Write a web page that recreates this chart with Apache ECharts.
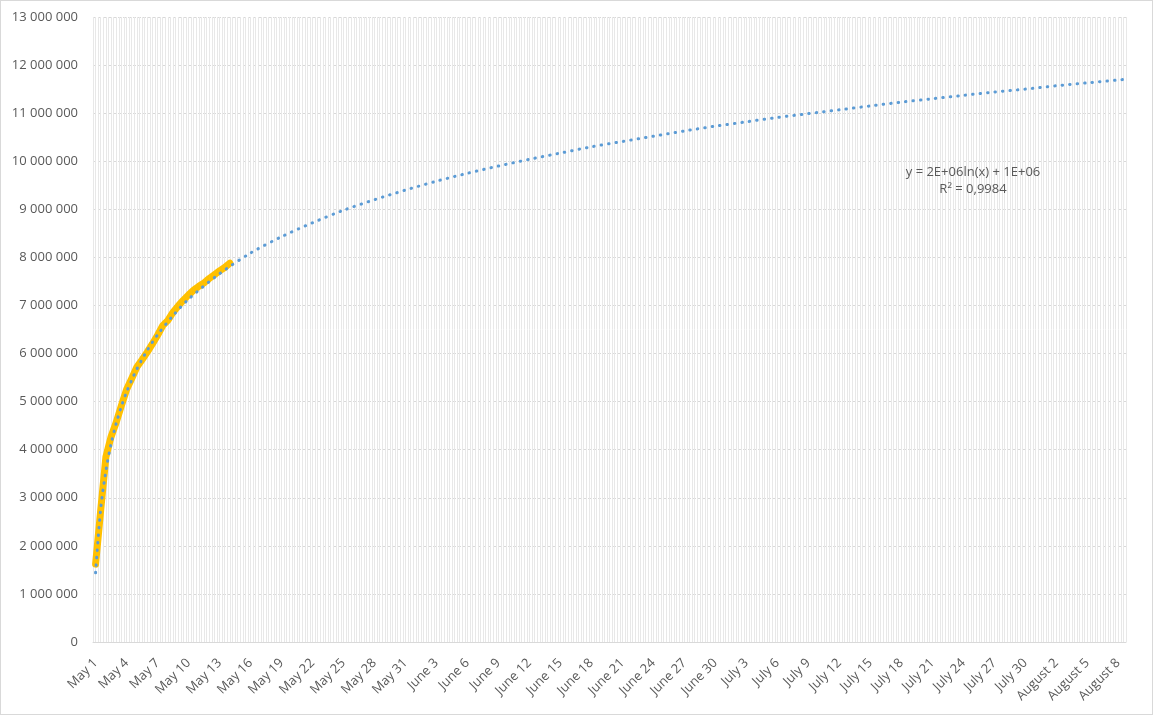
<!DOCTYPE html>
<html>
<head>
<meta charset="utf-8">
<script src="https://cdn.jsdelivr.net/npm/echarts@6/dist/echarts.min.js"></script>
<style>
  html, body { margin: 0; padding: 0; background: #ffffff; }
  #frame { position: absolute; left: 0; top: 0; width: 1153px; height: 715px; box-sizing: border-box; border: 1px solid #d9d9d9; }
  #chart { position: absolute; left: 0; top: 0; width: 1154px; height: 715px; }
</style>
</head>
<body>
<div id="frame"></div>
<div id="chart"></div>
<script>
// Tick labels shown every 3 days (each day = 2 categories)
const tickLabels = ['May 1','May 4','May 7','May 10','May 13','May 16','May 19','May 22','May 25','May 28','May 31',
  'June 3','June 6','June 9','June 12','June 15','June 18','June 21','June 24','June 27','June 30',
  'July 3','July 6','July 9','July 12','July 15','July 18','July 21','July 24','July 27','July 30',
  'August 2','August 5','August 8'];
const categoriesPerLabel = 6;
const categoryCount = 200;

// Observed series (yellow), one value per category from May 1
const observed = [1620000, 2750000, 3850000, 4270000, 4570000, 4920000, 5250000, 5480000, 5720000, 5870000,
  6030000, 6200000, 6380000, 6580000, 6690000, 6860000, 6990000, 7110000, 7220000, 7320000,
  7400000, 7470000, 7560000, 7640000, 7720000, 7790000, 7880000];

// Logarithmic trendline at sample categories
const trendIdx  = [0, 1, 2, 3, 4, 5, 6, 7, 8, 9, 10, 12, 15, 18, 24, 30, 36, 42, 48, 54, 60, 66, 72, 78, 84, 90, 96,
  102, 108, 114, 120, 126, 132, 138, 144, 150, 156, 162, 168, 174, 180, 186, 192, 198, 199];
const trendVals = [1440000, 2780000, 3560000, 4120000, 4550000, 4900000, 5200000, 5450000, 5680000, 5880000, 6070000,
  6390000, 6790000, 7130000, 7660000, 8090000, 8430000, 8720000, 8980000, 9200000, 9400000, 9585000, 9750000, 9900000,
  10040000, 10170000, 10300000, 10410000, 10520000, 10630000, 10730000, 10820000, 10910000, 10990000, 11070000,
  11150000, 11230000, 11300000, 11370000, 11440000, 11500000, 11570000, 11630000, 11690000, 11700000];

const trendLabel = ['y = 2E+06ln(x) + 1E+06', 'R² = 0,9984'];

const categories = [];
tickLabels.forEach(l => { for (let s = 0; s < categoriesPerLabel; s++) categories.push(s === 0 ? l : l + '\u200b'.repeat(s)); });
categories.length = categoryCount;

const trendData = trendIdx.map((i, k) => [i, trendVals[k]]);

const txt = '#595959';
const font = 'Open Sans';
const chart = echarts.init(document.getElementById('chart'), null, { renderer: 'canvas' });
chart.setOption({
  animation: false,
  grid: { left: 93, right: 28, top: 17, bottom: 73 },
  xAxis: [{
    type: 'category',
    data: categories,
    boundaryGap: true,
    axisLine: { show: true, lineStyle: { color: '#d9d9d9', width: 1 } },
    axisTick: { show: false },
    splitLine: { show: false },
    axisLabel: {
      interval: categoriesPerLabel - 1,
      rotate: 45,
      color: txt, fontSize: 13, fontFamily: font, margin: 19,
      formatter: v => v.replace(/\u200b/g, '')
    }
  }, {
    type: 'value',
    min: 0, max: categoryCount * 2, interval: 1,
    position: 'bottom',
    axisLine: { show: false }, axisTick: { show: false }, axisLabel: { show: false },
    splitLine: { show: true, lineStyle: { color: '#e8e8e8', width: 1 } }
  }],
  yAxis: {
    type: 'value',
    min: 0, max: 13000000, interval: 1000000,
    axisLine: { show: false }, axisTick: { show: false },
    axisLabel: {
      color: txt, fontSize: 13, fontFamily: font, margin: 15,
      formatter: v => String(v).replace(/\B(?=(\d{3})+(?!\d))/g, ' ')
    },
    splitLine: { show: true, lineStyle: { color: '#d9d9d9', width: 1, type: [3, 2] } }
  },
  series: [{
    type: 'line',
    xAxisIndex: 0,
    data: observed,
    showSymbol: false,
    symbol: 'none',
    lineStyle: { color: '#FFC000', width: 7, join: 'round', cap: 'round' },
    z: 2
  }, {
    type: 'line',
    xAxisIndex: 0,
    data: trendData,
    showSymbol: false,
    symbol: 'none',
    smooth: 0.3,
    lineStyle: { color: '#5B9BD5', width: 3, type: [0.5, 7], cap: 'round' },
    z: 3
  }],
  graphic: [{
    type: 'text', x: 973, y: 172, z: 100,
    style: { text: trendLabel[0], fill: txt, fontSize: 13, fontFamily: font, align: 'center', verticalAlign: 'middle' }
  }, {
    type: 'text', x: 973, y: 189, z: 100,
    style: { text: trendLabel[1], fill: txt, fontSize: 13, fontFamily: font, align: 'center', verticalAlign: 'middle' }
  }]
});
</script>
</body>
</html>
